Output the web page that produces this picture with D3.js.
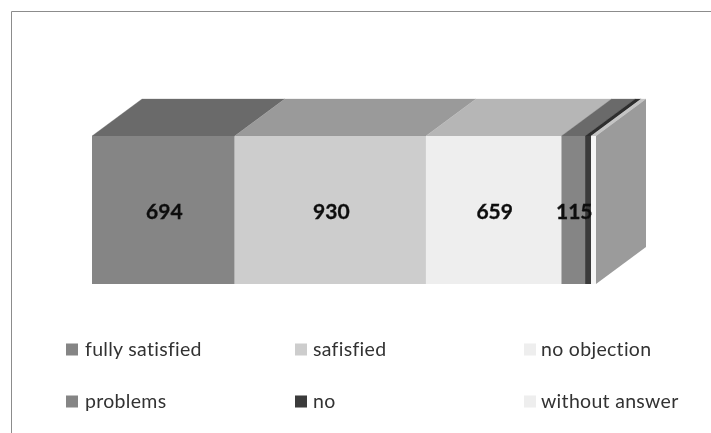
<!DOCTYPE html>
<html>
<head>
<meta charset="utf-8">
<script src="https://cdn.jsdelivr.net/npm/d3@7/dist/d3.min.js"></script>
<style>
html,body{margin:0;padding:0;background:#fff}
svg{display:block}
text{font-family:Lato,"Open Sans",sans-serif}
</style>
</head>
<body>
<div id="chart"></div>
<script>
const categories = ["fully satisfied","safisfied","no objection","problems","no","without answer"];
const values = [694,930,659,115,29,24];
const shownLabels = ["694","930","659","115","",""];
const frontColors = ["#858585","#cdcdcd","#eeeeee","#858585","#3a3a3a","#f6f6f6"];
const topColors = ["#6b6b6b","#9a9a9a","#b6b6b6","#6b6b6b","#2e2e2e","#c4c4c4"];
const sideColor = "#9b9b9b";

const W=711,H=433;
const svg=d3.select("#chart").append("svg").attr("width",W).attr("height",H);

const defs=svg.append("defs");
defs.append("filter").attr("id","soft").append("feGaussianBlur").attr("stdDeviation",0.4);

// frame (top and left only)
const frame=svg.append("g").attr("stroke","#8c8c8c").attr("stroke-width",1);
frame.append("line").attr("x1",11.5).attr("x2",W).attr("y1",11.5).attr("y2",11.5);
frame.append("line").attr("x1",11.5).attr("x2",11.5).attr("y1",11.5).attr("y2",H);

// data
const row=Object.fromEntries(categories.map((c,i)=>[c,values[i]]));
const stacked=d3.stack().keys(categories)([row]);
const total=d3.sum(values);
const x=d3.scaleLinear().domain([0,total]).range([92,596]);
const y=d3.scaleLinear().domain([0,1]).range([284,136]);
const dx=50,dy=-37;

const plot=svg.append("g").attr("filter","url(#soft)");
const poly=(pts)=>pts.map(p=>p.join(",")).join(" ");

// top faces
plot.append("g").selectAll("polygon").data(stacked).join("polygon")
  .attr("points",s=>{
    const a=x(s[0][0]),b=x(s[0][1]),t=y(1);
    return poly([[a,t],[b,t],[b+dx,t+dy],[a+dx,t+dy]]);
  })
  .attr("fill",(s,i)=>topColors[i]).attr("stroke",(s,i)=>topColors[i]).attr("stroke-width",0.3);

// right side face
plot.append("polygon")
  .attr("points",poly([[x(total),y(1)],[x(total)+dx,y(1)+dy],[x(total)+dx,y(0)+dy],[x(total),y(0)]]))
  .attr("fill",sideColor);

// front faces
plot.append("g").selectAll("rect").data(stacked).join("rect")
  .attr("x",s=>x(s[0][0])).attr("y",y(1))
  .attr("width",s=>x(s[0][1])-x(s[0][0])).attr("height",y(0)-y(1))
  .attr("fill",(s,i)=>frontColors[i]);

// value labels
svg.append("g").attr("filter","url(#soft)").selectAll("text").data(stacked).join("text")
  .attr("x",s=>(x(s[0][0])+x(s[0][1]))/2+1)
  .attr("y",219)
  .attr("text-anchor","middle")
  .attr("font-size",21).attr("font-weight",700).attr("fill","#111")
  .attr("stroke","#111").attr("stroke-width",0.35)
  .text((s,i)=>shownLabels[i]);

// legend
const colX=[66,295,524], rowY=[349,401];
const lg=svg.append("g").attr("filter","url(#soft)").selectAll("g").data(categories).join("g")
  .attr("transform",(c,i)=>`translate(${colX[i%3]},${rowY[Math.floor(i/3)]})`);
lg.append("rect").attr("x",0).attr("y",-5.5).attr("width",12).attr("height",12)
  .attr("fill",(c,i)=>frontColors[i]==="#f6f6f6"?"#eeeeee":frontColors[i]);
lg.append("text").attr("x",(c,i)=>[19,18,17][i%3]).attr("y",6.5).attr("font-size",19.5).attr("fill","#333")
  .attr("letter-spacing",0.3).text(c=>c);
</script>
</body>
</html>
